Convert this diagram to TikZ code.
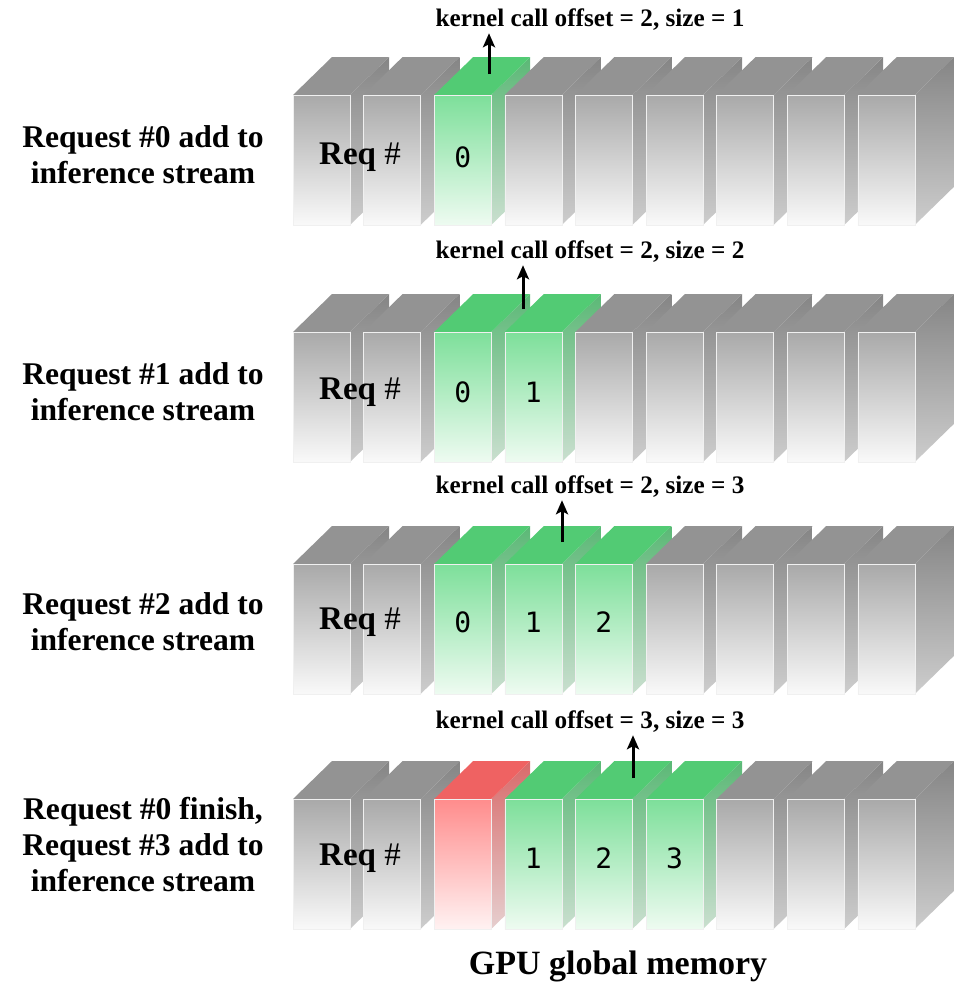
\documentclass[tikz,border=0pt]{standalone}
\usepackage{fontspec}
\setmainfont{Liberation Serif}
\newfontfamily\digitfont{DejaVu Sans Mono}
\usepackage{tikz}
\usetikzlibrary{arrows.meta}

\definecolor{graytop}{HTML}{939393}
\definecolor{grayside1}{HTML}{858585}
\definecolor{grayside2}{HTML}{CDCDCD}
\definecolor{grayfront1}{HTML}{A9A9A9}
\definecolor{grayfront2}{HTML}{F9F9F9}
\definecolor{greentop}{HTML}{52CB74}
\definecolor{greenside1}{HTML}{5BB876}
\definecolor{greenside2}{HTML}{CADFCF}
\definecolor{greenfront1}{HTML}{7DDF9A}
\definecolor{greenfront2}{HTML}{EEFBF1}
\definecolor{redtop}{HTML}{EF6262}
\definecolor{redside1}{HTML}{D86A6A}
\definecolor{redside2}{HTML}{E6CFCF}
\definecolor{redfront1}{HTML}{FF8C8C}
\definecolor{redfront2}{HTML}{FFF2F2}

% one memory slot: x of front face, y of its top edge, colour set
\newcommand{\memcell}[3]{%
  \shade[top color=#3side1, bottom color=#3side2] (#1+57,#2) -- (#1+96,#2-38) -- (#1+96,#2+92) -- (#1+57,#2+130) -- cycle;
  \fill[#3top] (#1,#2) -- (#1+39,#2-38) -- (#1+96,#2-38) -- (#1+57,#2) -- cycle;
  \shade[top color=#3front1, bottom color=#3front2, draw=black!6, line width=0.3pt] (#1,#2) rectangle (#1+57,#2+130);
}

\tikzset{
  steplabel/.style={font=\fontsize{15.8}{18}\selectfont\bfseries, align=center},
  kernel/.style={font=\fontsize{12.6}{14}\selectfont\bfseries, inner sep=1pt},
  reqtag/.style={font=\fontsize{16.5}{18}\selectfont\bfseries},
  digit/.style={font=\digitfont\fontsize{14}{16}\selectfont},
  callarrow/.style={-{Stealth[length=7pt, width=6pt, inset=1.5pt]}, line width=1.5pt},
}

\begin{document}
\begin{tikzpicture}[x=0.5pt, y=-0.5pt]
  \useasboundingbox (0,0) rectangle (959,986);
  % row 0
  \memcell{293}{95}{gray}
  \memcell{363.6}{95}{gray}
  \memcell{434.2}{95}{green}
  \memcell{504.8}{95}{gray}
  \memcell{575.4}{95}{gray}
  \memcell{646}{95}{gray}
  \memcell{716.6}{95}{gray}
  \memcell{787.2}{95}{gray}
  \memcell{857.8}{95}{gray}
  \node[steplabel] (step0) at (143,155) {Request \#0 add to\\inference stream};
  \node[kernel] (call0) at (590,20) {kernel call offset = 2, size = 1};
  \coordinate (ptr0) at (489,74);
  \draw[callarrow] (ptr0) -- (ptr0 |- call0.south);
  \node[reqtag] (tag0) at (360,157) {Req {\mdseries\#}};
  \node[digit] (slot0a) at (462.7,157) {0};
  % row 1
  \memcell{293}{332}{gray}
  \memcell{363.6}{332}{gray}
  \memcell{434.2}{332}{green}
  \memcell{504.8}{332}{green}
  \memcell{575.4}{332}{gray}
  \memcell{646}{332}{gray}
  \memcell{716.6}{332}{gray}
  \memcell{787.2}{332}{gray}
  \memcell{857.8}{332}{gray}
  \node[steplabel] (step1) at (143,392) {Request \#1 add to\\inference stream};
  \node[kernel] (call1) at (590,252) {kernel call offset = 2, size = 2};
  \coordinate (ptr1) at (523,309);
  \draw[callarrow] (ptr1) -- (ptr1 |- call1.south);
  \node[reqtag] (tag1) at (360,392) {Req {\mdseries\#}};
  \node[digit] (slot1a) at (462.7,392) {0};
  \node[digit] (slot1b) at (533.3,392) {1};
  % row 2
  \memcell{293}{564}{gray}
  \memcell{363.6}{564}{gray}
  \memcell{434.2}{564}{green}
  \memcell{504.8}{564}{green}
  \memcell{575.4}{564}{green}
  \memcell{646}{564}{gray}
  \memcell{716.6}{564}{gray}
  \memcell{787.2}{564}{gray}
  \memcell{857.8}{564}{gray}
  \node[steplabel] (step2) at (143,622) {Request \#2 add to\\inference stream};
  \node[kernel] (call2) at (590,487) {kernel call offset = 2, size = 3};
  \coordinate (ptr2) at (562,542);
  \draw[callarrow] (ptr2) -- (ptr2 |- call2.south);
  \node[reqtag] (tag2) at (360,622) {Req {\mdseries\#}};
  \node[digit] (slot2a) at (462.7,622) {0};
  \node[digit] (slot2b) at (533.3,622) {1};
  \node[digit] (slot2c) at (603.9,622) {2};
  % row 3
  \memcell{293}{799}{gray}
  \memcell{363.6}{799}{gray}
  \memcell{434.2}{799}{red}
  \memcell{504.8}{799}{green}
  \memcell{575.4}{799}{green}
  \memcell{646}{799}{green}
  \memcell{716.6}{799}{gray}
  \memcell{787.2}{799}{gray}
  \memcell{857.8}{799}{gray}
  \node[steplabel] (step3) at (143,845) {Request \#0 finish,\\Request \#3 add to\\inference stream};
  \node[kernel] (call3) at (590,722) {kernel call offset = 3, size = 3};
  \coordinate (ptr3) at (633,778);
  \draw[callarrow] (ptr3) -- (ptr3 |- call3.south);
  \node[reqtag] (tag3) at (360,858) {Req {\mdseries\#}};
  \node[digit] (slot3b) at (533.3,858) {1};
  \node[digit] (slot3c) at (603.9,858) {2};
  \node[digit] (slot3d) at (674.5,858) {3};
  \node[font=\fontsize{17}{20}\selectfont\bfseries] (memlabel) at (618,966) {GPU global memory};
\end{tikzpicture}
\end{document}
